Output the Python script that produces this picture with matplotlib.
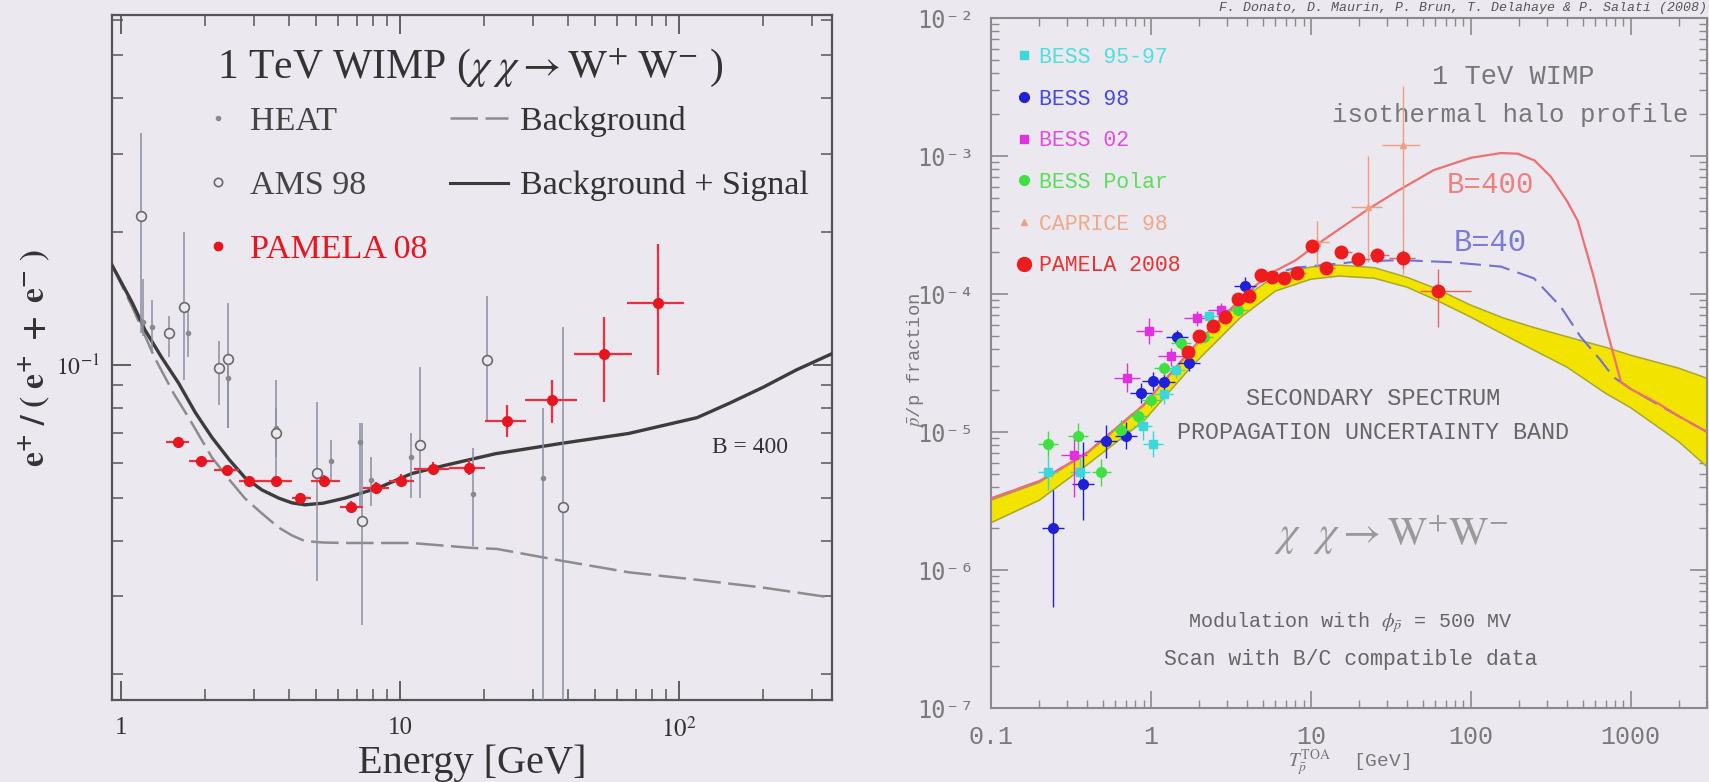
import numpy as np
import matplotlib
matplotlib.use('Agg')
import matplotlib.pyplot as plt
from matplotlib.lines import Line2D
from matplotlib.ticker import FixedLocator, NullFormatter, LogLocator, FixedFormatter

plt.rcParams['mathtext.fontset'] = 'stix'

# ================= LEFT PANEL DATA (positron fraction) =================
curve_E = [0.93, 1.1, 1.22, 1.4, 1.61, 1.85, 2.12, 2.45, 2.78, 3.2, 3.68, 4.1, 4.56, 5.3, 6.35, 8.4, 11, 14.5,
           22, 38, 66, 116, 152, 200, 263, 353]
signal_frac = [0.168, 0.138, 0.12, 0.104, 0.091, 0.078, 0.0686, 0.061, 0.0557, 0.0522, 0.050, 0.0488, 0.0483, 0.0487,
               0.050, 0.0528, 0.0568, 0.0593, 0.063, 0.0665, 0.070, 0.076, 0.082, 0.089, 0.0974, 0.106]
bkg_E = [0.93, 1.1, 1.32, 1.55, 1.75, 2.12, 2.45, 2.78, 3.2, 3.68, 4.1, 4.56, 5.3, 6.35, 11, 18.1, 22.2, 38, 66, 116, 200, 353]
bkg_frac = [0.168, 0.135, 0.104, 0.086, 0.076, 0.0618, 0.055, 0.050, 0.0462, 0.0429, 0.0412, 0.040, 0.0397, 0.0396,
            0.0396, 0.0386, 0.0384, 0.0361, 0.034, 0.0327, 0.0314, 0.0298]

heat_E = [1.2, 1.29, 1.74, 2.42, 3.6, 5.65, 7.2, 7.9, 11.0, 18.3, 32.5]
heat_v = [0.125, 0.122, 0.118, 0.0934, 0.072, 0.0608, 0.0668, 0.055, 0.0618, 0.0512, 0.0556]
heat_lo = [0.116, 0.107, 0.104, 0.072, 0.062, 0.0548, 0.0476, 0.048, 0.050, 0.039, 0.0175]
heat_hi = [0.156, 0.140, 0.135, 0.105, 0.080, 0.0675, 0.074, 0.062, 0.070, 0.0648, 0.080]

ams_E = [1.18, 1.49, 1.69, 2.24, 2.42, 3.6, 5.04, 7.3, 11.8, 20.5, 38.4]
ams_v = [0.217, 0.118, 0.135, 0.0984, 0.103, 0.070, 0.057, 0.0444, 0.0658, 0.1026, 0.0478]
ams_lo = [0.118, 0.104, 0.0924, 0.081, 0.072, 0.0548, 0.0325, 0.0259, 0.050, 0.075, 0.0175]
ams_hi = [0.334, 0.129, 0.200, 0.113, 0.138, 0.0924, 0.0824, 0.074, 0.099, 0.143, 0.122]

pam_E = [1.6, 1.94, 2.4, 2.88, 3.6, 4.4, 5.35, 6.7, 8.2, 10.1, 13.1, 17.7, 24.2, 35, 54, 84]
pam_v = [0.0668, 0.0605, 0.058, 0.0548, 0.0548, 0.050, 0.0548, 0.0478, 0.0528, 0.0548, 0.0583, 0.0586,
         0.0746, 0.0833, 0.106, 0.138]
pam_lo = [0.0655, 0.0592, 0.0567, 0.0535, 0.0535, 0.0487, 0.0533, 0.0463, 0.0512, 0.0530, 0.0563, 0.0563,
          0.0688, 0.074, 0.0825, 0.095]
pam_hi = [0.0681, 0.0618, 0.0593, 0.0561, 0.0561, 0.0513, 0.0563, 0.0493, 0.0544, 0.0566, 0.0603, 0.0610,
          0.081, 0.0925, 0.128, 0.188]
pam_Elo = [1.45, 1.75, 2.15, 2.65, 3.1, 4.1, 4.8, 6.1, 7.4, 9.1, 11.2, 15.0, 20.1, 28, 42, 65]
pam_Ehi = [1.75, 2.15, 2.65, 3.1, 4.1, 4.8, 6.1, 7.4, 9.1, 11.2, 15.0, 20.1, 28.4, 43, 67.6, 104]

# ================= RIGHT PANEL DATA (antiproton fraction) =================
band_E = [0.1, 0.2, 0.4, 0.9, 1.8, 3.6, 6, 10, 15, 25, 40, 60, 100, 160, 250, 400, 700, 1000, 2000, 3000]
band_hi = [3.2e-6, 4.3e-6, 7.0e-6, 1.55e-5, 4.0e-5, 9.0e-5, 1.35e-4, 1.57e-4, 1.62e-4, 1.55e-4, 1.32e-4, 1.1e-4,
           8.3e-5, 6.7e-5, 5.7e-5, 4.9e-5, 4.1e-5, 3.6e-5, 2.9e-5, 2.45e-5]
band_lo = [2.2e-6, 3.2e-6, 5.8e-6, 1.2e-5, 3.0e-5, 6.7e-5, 1.05e-4, 1.28e-4, 1.35e-4, 1.3e-4, 1.12e-4, 9.1e-5,
           6.8e-5, 5.1e-5, 3.9e-5, 2.95e-5, 1.9e-5, 1.5e-5, 8.5e-6, 5.6e-6]

b400_E = [0.1, 0.2, 0.4, 0.9, 1.8, 3.6, 5.4, 8, 11, 16, 22.7, 35, 58.6, 100, 154, 196, 250, 316, 400, 466, 590,
          718, 870, 1000, 1500, 2000, 3000]
b400_v = [3.3e-6, 4.4e-6, 7.1e-6, 1.57e-5, 4.0e-5, 9.1e-5, 1.38e-4, 1.75e-4, 2.3e-4, 3.1e-4, 4.1e-4, 5.6e-4,
          7.9e-4, 9.7e-4, 1.05e-3, 1.04e-3, 9.3e-4, 7.1e-4, 4.7e-4, 3.4e-4, 1.3e-4, 5.2e-5, 2.3e-5, 2.05e-5,
          1.6e-5, 1.3e-5, 1.0e-5]
b40_E = [0.1, 0.2, 0.4, 0.9, 1.8, 3.6, 5.4, 8, 12.6, 20, 36.5, 75, 154, 248, 365, 486, 650, 780, 1000, 2000, 3000]
b40_v = [3.3e-6, 4.4e-6, 7.1e-6, 1.57e-5, 4.0e-5, 9.1e-5, 1.35e-4, 1.55e-4, 1.63e-4, 1.72e-4, 1.76e-4, 1.7e-4,
         1.58e-4, 1.3e-4, 8.1e-5, 4.9e-5, 3.3e-5, 2.5e-5, 2.05e-5, 1.3e-5, 1.0e-5]

b9597_E = [0.227, 0.36, 0.89, 1.03, 1.2, 1.43, 2.3]
b9597_v = [5.1e-6, 5.1e-6, 1.1e-5, 8.2e-6, 1.87e-5, 2.8e-5, 6.9e-5]
b98_E = [0.244, 0.376, 0.52, 0.7, 0.87, 1.03, 1.2, 1.45, 1.73, 3.86]
b98_v = [2.0e-6, 4.2e-6, 8.6e-6, 9.4e-6, 1.92e-5, 2.35e-5, 2.3e-5, 4.9e-5, 3.15e-5, 1.15e-4]
b02_E = [0.33, 0.71, 0.97, 1.33, 1.94, 2.74]
b02_v = [6.8e-6, 2.45e-5, 5.4e-5, 3.55e-5, 6.7e-5, 7.7e-5]
bpol_E = [0.227, 0.35, 0.49, 0.65, 0.83, 1.0, 1.2, 1.54, 2.14, 3.5]
bpol_v = [8.2e-6, 9.3e-6, 5.1e-6, 1.03e-5, 1.3e-5, 1.7e-5, 2.9e-5, 4.4e-5, 4.9e-5, 7.7e-5]
cap_E = [11, 22.7, 37.6]
cap_v = [2.4e-4, 4.3e-4, 1.2e-3]
cap_lo = [1.6e-4, 1.7e-4, 1.4e-4]
cap_hi = [3.4e-4, 1.0e-3, 3.2e-3]
cap_Elo = [9.5, 17.8, 28]
cap_Ehi = [13, 28, 48]
pamR_E = [1.7, 2.0, 2.45, 2.9, 3.5, 4.1, 4.9, 5.7, 6.8, 8.2, 10.2, 12.4, 15.5, 19.7, 26, 37.5, 62]
pamR_v = [3.8e-5, 5.0e-5, 5.9e-5, 6.8e-5, 9.2e-5, 9.6e-5, 1.37e-4, 1.33e-4, 1.3e-4, 1.41e-4, 2.23e-4, 1.55e-4,
          2.02e-4, 1.8e-4, 1.92e-4, 1.82e-4, 1.05e-4]
pamR_rel = [0.08, 0.08, 0.08, 0.08, 0.08, 0.08, 0.08, 0.08, 0.08, 0.08, 0.1, 0.1, 0.1, 0.1, 0.12, 0.15, 0.45]
pamR_Elo = [1.6, 1.85, 2.25, 2.7, 3.25, 3.8, 4.5, 5.3, 6.3, 7.6, 9.3, 11.4, 14.2, 18, 23.5, 31, 48]
pamR_Ehi = [1.85, 2.25, 2.7, 3.25, 3.8, 4.5, 5.3, 6.3, 7.6, 9.3, 11.4, 14.2, 18, 23.5, 31, 45, 100]

# ================= FIGURE =================
W, H = 1709, 782
BG = '#ebe8f0'
fig = plt.figure(figsize=(W / 100, H / 100), dpi=100)
fig.patch.set_facecolor(BG)


def px_axes(l, t, r, b):
    return fig.add_axes([l / W, 1 - b / H, (r - l) / W, (b - t) / H])


SERIF = ['Liberation Serif', 'DejaVu Serif']
MONO = ['Liberation Mono', 'DejaVu Sans Mono']

# ---------------- Left panel ----------------
axL = px_axes(112, 15, 832, 700)
axL.set_facecolor(BG)
axL.set_xscale('log')
axL.set_yscale('log')
axL.set_xlim(0.93, 353)
axL.set_ylim(0.0175, 0.617)

DASH = (0, (11, 3))
axL.plot(bkg_E, bkg_frac, color='#8c8c8c', lw=1.8, ls=DASH, zorder=3)
axL.plot(curve_E, signal_frac, color='#3c3c3c', lw=2.4, zorder=3)

hv = np.array(heat_v)
axL.errorbar(heat_E, heat_v, yerr=[hv - np.array(heat_lo), np.array(heat_hi) - hv], fmt='o', ms=3,
             color='#8a8a8a', ecolor='#8a90a0', elinewidth=1.1, capsize=0, zorder=4)
av = np.array(ams_v)
axL.errorbar(ams_E, ams_v, yerr=[av - np.array(ams_lo), np.array(ams_hi) - av], fmt='o', ms=7,
             mfc=BG, mec='#6a6a6a', mew=1.2, ecolor='#8a90a0', elinewidth=1.1, capsize=0, zorder=4)
pv = np.array(pam_v)
pe = np.array(pam_E)
axL.errorbar(pam_E, pam_v, yerr=[pv - np.array(pam_lo), np.array(pam_hi) - pv],
             xerr=[pe - np.array(pam_Elo), np.array(pam_Ehi) - pe], fmt='o', ms=7,
             color='#e8141e', ecolor='#ec3040', elinewidth=1.6, capsize=0, zorder=5)

axL.tick_params(which='both', direction='in', top=True, right=True, colors='#555555')
axL.tick_params(which='major', length=14, width=1.3, labelsize=18, pad=12, labelcolor='#333333')
axL.tick_params(which='minor', length=8, width=1.1)
axL.tick_params(axis='y', which='major', labelsize=17, pad=9)
axL.xaxis.set_major_locator(FixedLocator([1, 10, 100]))
axL.xaxis.set_major_formatter(FixedFormatter(['1', '10', r'$10^{2}$']))
axL.xaxis.set_minor_locator(LogLocator(base=10, subs=np.arange(2, 10)))
axL.xaxis.set_minor_formatter(NullFormatter())
axL.yaxis.set_major_locator(FixedLocator([0.1]))
axL.yaxis.set_major_formatter(FixedFormatter([r'$10^{-1}$']))
axL.yaxis.set_minor_locator(LogLocator(base=10, subs=np.arange(2, 10)))
axL.yaxis.set_minor_formatter(NullFormatter())
for lab in axL.get_xticklabels() + axL.get_yticklabels():
    lab.set_fontfamily(SERIF)
for s in axL.spines.values():
    s.set_color('#555555')
    s.set_linewidth(1.6)

axL.set_xlabel('Energy [GeV]', fontsize=29, family=SERIF, color='#333333')
axL.xaxis.label.set_va('center')
axL.xaxis.set_label_coords(0.5, (700 - 763) / 685)
axL.set_ylabel(r'$\mathbf{e^{+}\ /\ (\ e^{+}\ +\ e^{-}\ )}$', fontsize=24, color='#333333')
axL.yaxis.label.set_va('center')
axL.yaxis.set_label_coords((34 - 112) / 720, (700 - 358) / 685)

axL.text(0.497, 0.924, r'1 TeV WIMP ($\chi\;\chi \rightarrow \mathrm{W}^{+}\;\mathrm{W}^{-}$ )',
         transform=axL.transAxes, ha='center', va='center', fontsize=30, family=SERIF, color='#333333')
axL.text(0.886, 0.368, 'B = 400', transform=axL.transAxes, ha='center', va='center', fontsize=17,
         family=SERIF, color='#333333')

h1 = [Line2D([], [], ls='none', marker='o', ms=3, color='#8a8a8a'),
      Line2D([], [], ls='none', marker='o', ms=6, mfc=BG, mec='#6a6a6a', mew=1.2),
      Line2D([], [], ls='none', marker='o', ms=6, color='#e8141e')]
leg1 = axL.legend(h1, ['HEAT', 'AMS 98', 'PAMELA 08'], loc='upper left', bbox_to_anchor=(0.1278, 0.867),
                  frameon=False, borderpad=0, borderaxespad=0, handlelength=0.8, handletextpad=0.54,
                  labelspacing=0.98, prop={'family': SERIF, 'size': 24.5},
                  labelcolor=['#444444', '#444444', '#e8141e'])
axL.add_artist(leg1)
h2 = [Line2D([], [], color='#8c8c8c', lw=1.8, ls=DASH),
      Line2D([], [], color='#3c3c3c', lw=2.2)]
axL.legend(h2, ['Background', 'Background + Signal'], loc='upper left', bbox_to_anchor=(0.469, 0.867),
           frameon=False, borderpad=0, borderaxespad=0, handlelength=1.7, handletextpad=0.38,
           labelspacing=0.98, prop={'family': SERIF, 'size': 24.5}, labelcolor='#333333')

# ---------------- Right panel ----------------
axR = px_axes(991, 18, 1707, 708)
axR.set_facecolor(BG)
axR.set_xscale('log')
axR.set_yscale('log')
axR.set_xlim(0.1, 3000)
axR.set_ylim(1e-7, 1e-2)

axR.fill_between(band_E, band_lo, band_hi, color='#f3e400', lw=0, zorder=2)
axR.plot(band_E, band_hi, color='#a8a830', lw=1.1, zorder=2.5)
axR.plot(band_E, band_lo, color='#a8a830', lw=1.1, zorder=2.5)
axR.plot(b40_E, b40_v, color='#7070d8', lw=1.5, ls=(0, (10, 4)), zorder=3)
axR.plot(b400_E, b400_v, color='#ee7070', lw=1.6, zorder=3)


def pts(ax, E, v, rel_lo, rel_hi, dex, **kw):
    E = np.array(E)
    v = np.array(v)
    ax.errorbar(E, v, yerr=[v * np.array(rel_lo), v * np.array(rel_hi)],
                xerr=[E - E / 10 ** dex, E * 10 ** dex - E], capsize=0, elinewidth=1.0, ls='none', **kw)


pts(axR, b9597_E, b9597_v, [0.25, 0.25, 0.2, 0.2, 0.15, 0.12, 0.1], [0.3, 0.3, 0.25, 0.25, 0.15, 0.12, 0.1],
    0.06, marker='s', ms=6, color='#3ad8d8', zorder=5)
pts(axR, b98_E, b98_v, [0.73, 0.45, 0.25, 0.2, 0.15, 0.15, 0.15, 0.12, 0.12, 0.12],
    [0.9, 1.0, 0.3, 0.25, 0.18, 0.15, 0.15, 0.12, 0.12, 0.15], 0.07, marker='o', ms=7, color='#2020d8', zorder=5)
pts(axR, b02_E, b02_v, [0.5, 0.2, 0.2, 0.15, 0.12, 0.12], [0.3, 0.3, 0.25, 0.15, 0.12, 0.12],
    0.08, marker='s', ms=6, color='#e030e0', zorder=5)
pts(axR, bpol_E, bpol_v, [0.2, 0.2, 0.2, 0.15, 0.12, 0.1, 0.1, 0.1, 0.1, 0.08],
    [0.25, 0.25, 0.25, 0.18, 0.12, 0.1, 0.1, 0.1, 0.1, 0.08], 0.06, marker='o', ms=7, color='#40e040', zorder=5)
cv = np.array(cap_v)
ce = np.array(cap_E)
axR.errorbar(cap_E, cap_v, yerr=[cv - np.array(cap_lo), np.array(cap_hi) - cv],
             xerr=[ce - np.array(cap_Elo), np.array(cap_Ehi) - ce], fmt='^', ms=5, color='#f0a080',
             elinewidth=1.0, capsize=0, zorder=5)
prv = np.array(pamR_v)
pre = np.array(pamR_E)
axR.errorbar(pamR_E, pamR_v, yerr=prv * np.array(pamR_rel),
             xerr=[pre - np.array(pamR_Elo), np.array(pamR_Ehi) - pre], fmt='o', ms=9, color='#ee1c1c',
             ecolor='#f06060', elinewidth=1.0, capsize=0, zorder=6)

axR.tick_params(which='both', direction='in', top=True, right=True, colors='#8a8a8a')
axR.tick_params(which='major', length=12, width=1.2, labelsize=18, pad=12, labelcolor='#7a7a7a')
axR.tick_params(which='minor', length=6, width=1.0)
axR.xaxis.set_major_locator(FixedLocator([0.1, 1, 10, 100, 1000]))
axR.xaxis.set_major_formatter(FixedFormatter(['0.1', '1', '10', '100', '1000']))
axR.xaxis.set_minor_locator(LogLocator(base=10, subs=np.arange(2, 10)))
axR.xaxis.set_minor_formatter(NullFormatter())
axR.yaxis.set_major_locator(FixedLocator([1e-7, 1e-6, 1e-5, 1e-4, 1e-3, 1e-2]))
axR.yaxis.set_major_formatter(FixedFormatter(['10⁻⁷', '10⁻⁶', '10⁻⁵', '10⁻⁴', '10⁻³', '10⁻²']))
axR.yaxis.set_minor_locator(LogLocator(base=10, subs=np.arange(2, 10)))
axR.yaxis.set_minor_formatter(NullFormatter())
for lab in axR.get_xticklabels():
    lab.set_fontfamily(MONO)
for lab in axR.get_yticklabels():
    lab.set_fontfamily('DejaVu Sans Mono')
    lab.set_fontsize(17)
for s in axR.spines.values():
    s.set_color('#8a8a8a')
    s.set_linewidth(1.5)

axR.set_xlabel(r'$T_{\bar{p}}^{\mathrm{TOA}}$  [GeV]', fontsize=14, family=MONO, color='#777777')
axR.xaxis.label.set_va('center')
axR.xaxis.set_label_coords(0.5, (708 - 763) / 690)
axR.set_ylabel(r'$\bar{p}$/p fraction', fontsize=13.5, family=MONO, color='#777777')
axR.yaxis.label.set_va('center')
axR.yaxis.set_label_coords((915 - 991) / 716, (708 - 360) / 690)

hR = [Line2D([], [], ls='none', marker='s', ms=6, color='#3ad8d8'),
      Line2D([], [], ls='none', marker='o', ms=7, color='#2020d8'),
      Line2D([], [], ls='none', marker='s', ms=6, color='#e030e0'),
      Line2D([], [], ls='none', marker='o', ms=7, color='#40e040'),
      Line2D([], [], ls='none', marker='^', ms=5, color='#f0a080'),
      Line2D([], [], ls='none', marker='o', ms=10, color='#ee1c1c')]
axR.legend(hR, ['BESS 95-97', 'BESS 98', 'BESS 02', 'BESS Polar', 'CAPRICE 98', 'PAMELA 2008'],
           loc='upper left', bbox_to_anchor=(0.0385, 0.958), frameon=False, borderpad=0, borderaxespad=0,
           handlelength=0.5, handletextpad=0.45, labelspacing=0.96, prop={'family': MONO, 'size': 15.5},
           labelcolor=['#50dede', '#4848e0', '#e050e0', '#58e058', '#f0a888', '#ee3030'])

GREY = '#777777'
axR.text(0.729, 0.914, '1 TeV WIMP', transform=axR.transAxes, ha='center', va='center', fontsize=19.5,
         family=MONO, color=GREY)
axR.text(0.725, 0.859, 'isothermal halo profile', transform=axR.transAxes, ha='center', va='center',
         fontsize=18.5, family=MONO, color=GREY)
axR.text(0.698, 0.758, 'B=400', transform=axR.transAxes, ha='center', va='center', fontsize=21,
         family=MONO, color='#f08080')
axR.text(0.697, 0.674, 'B=40', transform=axR.transAxes, ha='center', va='center', fontsize=22,
         family=MONO, color='#7b7bd8')
axR.text(0.5335, 0.449, 'SECONDARY SPECTRUM', transform=axR.transAxes, ha='center', va='center',
         fontsize=17, family=MONO, color='#666666')
axR.text(0.5335, 0.3986, 'PROPAGATION UNCERTAINTY BAND', transform=axR.transAxes, ha='center', va='center',
         fontsize=16.8, family=MONO, color='#666666')
axR.text(0.560, 0.251, r'$\chi\ \ \chi \rightarrow \mathrm{W}^{+}\mathrm{W}^{-}$', transform=axR.transAxes,
         ha='center', va='center', fontsize=30, color='#999999')
axR.text(0.5014, 0.1232, r'Modulation with $\phi_{\bar{p}}$ = 500 MV', transform=axR.transAxes,
         ha='center', va='center', fontsize=14.5, family=MONO, color='#666666')
axR.text(0.5028, 0.0696, 'Scan with B/C compatible data', transform=axR.transAxes, ha='center',
         va='center', fontsize=15.5, family=MONO, color='#666666')

fig.text(1707 / W, 1 - 8 / H, 'F. Donato, D. Maurin, P. Brun, T. Delahaye & P. Salati (2008)',
         ha='right', va='center', fontsize=9.5, family=MONO, style='italic', color='#555555')

fig.savefig('out.png', dpi=100, facecolor=BG)
